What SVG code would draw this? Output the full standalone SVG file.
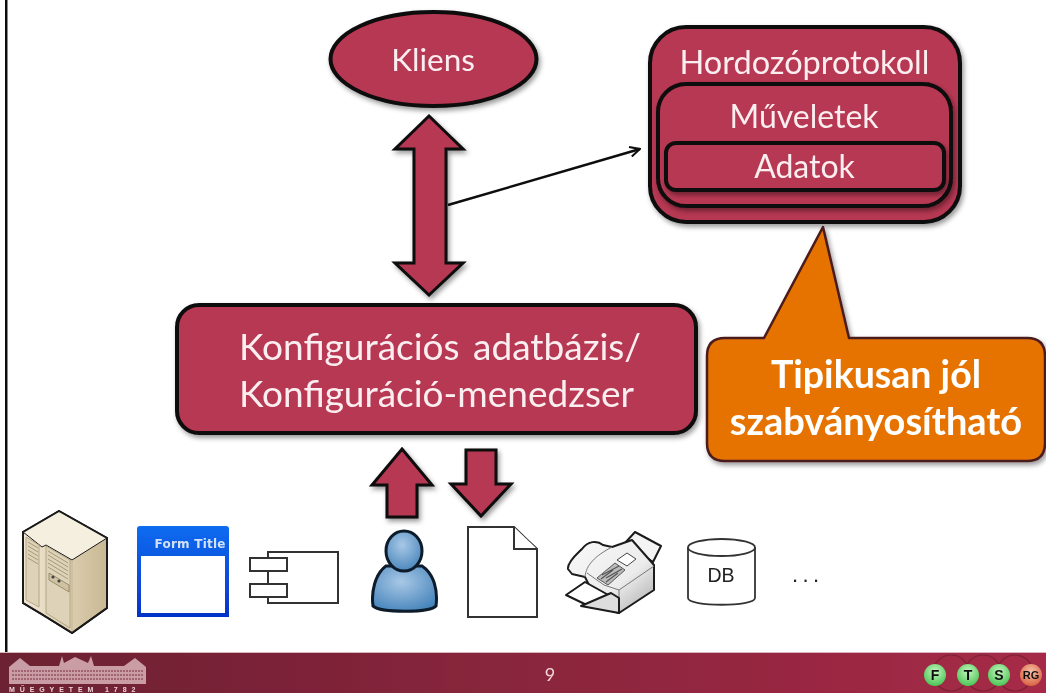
<svg xmlns="http://www.w3.org/2000/svg" width="1046" height="693" viewBox="0 0 1046 693">
<style>
.n{fill:#b73753;stroke:#0a0a0a;stroke-width:4;stroke-linejoin:miter}
.a{fill:#b73753;stroke:#0a0a0a;stroke-width:3;stroke-linejoin:miter}
.t{font-family:Lato,"Liberation Sans",sans-serif;fill:#fbeef0;text-anchor:middle}
.i{fill:#fff;stroke:#333;stroke-width:2}
.k{stroke:#1a1a1a;stroke-width:2;stroke-linejoin:round}
.f{font-family:"Liberation Sans",sans-serif;fill:#111;text-anchor:middle;font-weight:bold;font-size:14px}
</style>
<defs>
<filter id="s" x="-10%" y="-10%" width="125%" height="125%"><feDropShadow dx="2" dy="3" stdDeviation="2.5" flood-color="#000" flood-opacity=".4"/></filter>
<filter id="soft" filterUnits="userSpaceOnUse" x="0" y="0" width="1046" height="693"><feGaussianBlur stdDeviation=".45"/></filter>
<linearGradient id="bar" x1="0" x2="1" y1="0" y2="0"><stop offset="0" stop-color="#6c2132"/><stop offset="1" stop-color="#a62a47"/></linearGradient>
<linearGradient id="beige" x1="0" x2="1" y1="0" y2="0"><stop offset="0" stop-color="#f0e8d4"/><stop offset="1" stop-color="#c9b893"/></linearGradient>
<linearGradient id="form" x1="0" x2="0" y1="0" y2="1"><stop offset="0" stop-color="#0a6cf0"/><stop offset="1" stop-color="#0633c8"/></linearGradient>
<radialGradient id="blue" cx=".45" cy=".35" r=".75"><stop offset="0" stop-color="#a8c8e6"/><stop offset="1" stop-color="#3f7fb8"/></radialGradient>
<linearGradient id="gray" x1="0" x2="1" y1="0" y2="1"><stop offset="0" stop-color="#f8f8f8"/><stop offset=".6" stop-color="#ececec"/><stop offset="1" stop-color="#a8a8a8"/></linearGradient>
<radialGradient id="green" cx=".5" cy=".35" r=".7"><stop offset="0" stop-color="#c8f5c0"/><stop offset="1" stop-color="#3fc24c"/></radialGradient>
<radialGradient id="red" cx=".5" cy=".35" r=".7"><stop offset="0" stop-color="#f5c0a8"/><stop offset="1" stop-color="#d85a3a"/></radialGradient>
<marker id="a" viewBox="0 0 12 12" refX="11" refY="6" markerWidth="12" markerHeight="12" markerUnits="userSpaceOnUse" orient="auto"><path d="M1 1L11 6L1 11" fill="none" stroke="#0a0a0a" stroke-width="2"/></marker>
</defs>
<rect width="1046" height="693" fill="#fff"/>
<g filter="url(#soft)">
<rect x="5" y="0" width="2.5" height="652" fill="#111"/>

<g id="footer">
<rect x="0" y="652" width="1046" height="41" fill="url(#bar)"/>
<rect x="0" y="652" width="1046" height="1" fill="#d9b5bd"/>
<text x="550" y="681" font-family="Lato,'Liberation Sans',sans-serif" font-size="18" fill="#f3d5da" text-anchor="middle">9</text>
<g id="building" fill="#d9b3ba">
<path d="M9 667L20 658L30 666H59L62 656L64 663L75 657L88 663L91 656L94 666H124L135 658L146 667V684H9Z" opacity=".85"/>
<path d="M12 671H143M12 675H143M12 679H143" stroke="#7b2a3c" stroke-width="1.2" stroke-dasharray="2 1"/>
<text x="9" y="692" font-family="'Liberation Sans',sans-serif" font-size="7" font-weight="bold" fill="#eed5d9" letter-spacing="4.9">MŰEGYETEM 1782</text>
</g>
<g id="logos">
<g fill="none" stroke="#7a2236" stroke-width="1.2"><circle cx="951" cy="673" r="18"/><circle cx="983" cy="673" r="18"/><circle cx="1015" cy="673" r="18"/></g>
<circle cx="935" cy="675" r="11" fill="url(#green)"/><circle cx="968" cy="675" r="11" fill="url(#green)"/><circle cx="999" cy="675" r="11" fill="url(#green)"/><circle cx="1031" cy="675" r="11" fill="url(#red)"/>
<text class="f" x="935" y="680">F</text><text class="f" x="968" y="680">T</text><text class="f" x="999" y="680">S</text><text class="f" x="1031" y="679" style="font-size:11px">RG</text>
</g>
</g>

<g id="connectors">
<path id="arrow-main" class="a" filter="url(#s)" d="M429 116L463 149H446V263H463L429 295L395 263H414V149H395Z"/>
<path id="arrow-up" class="a" filter="url(#s)" d="M402 449L432 485H417V517H387V485H372Z"/>
<path id="arrow-down" class="a" filter="url(#s)" d="M466 450H496V484H511L481 516L451 484H466Z"/>
<line x1="448" y1="205" x2="640" y2="149" stroke="#0a0a0a" stroke-width="2.4" marker-end="url(#a)"/>
</g>

<g id="kliens">
<ellipse class="n" filter="url(#s)" cx="433.5" cy="59" rx="103" ry="47"/>
<text class="t" x="433" y="71" font-size="31.5">Kliens</text>
</g>

<g id="hordozoprotokoll">
<rect class="n" filter="url(#s)" x="650" y="27" width="310" height="195" rx="36"/>
<text class="t" x="804.500" y="74" font-size="32.500">Hordozóprotokoll</text>
</g>
<g id="muveletek">
<rect class="n" filter="url(#s)" x="658" y="84" width="293" height="122" rx="28"/>
<text class="t" x="804" y="128" font-size="32">Műveletek</text>
</g>
<g id="adatok">
<rect class="n" filter="url(#s)" x="666" y="143" width="278" height="47" rx="10"/>
<text class="t" x="804.500" y="178" font-size="32">Adatok</text>
</g>

<g id="konfiguracio">
<rect class="n" filter="url(#s)" x="177" y="305" width="519" height="128" rx="22"/>
<text class="t" x="440" y="360" font-size="37" word-spacing="4">Konfigurációs adatbázis/</text>
<text class="t" x="436.500" y="407" font-size="37">Konfiguráció-menedzser</text>
</g>

<g id="callout">
<path filter="url(#s)" fill="#e67300" stroke="#4b1a1e" stroke-width="2.5" stroke-linejoin="round" d="M725 338H764L823 227L849 338H1027Q1045 338 1045 356V443Q1045 461 1027 461H725Q707 461 707 443V356Q707 338 725 338Z"/>
<text class="t" x="876" y="388" font-size="37.500" font-weight="bold" style="fill:#fff">Tipikusan jól</text>
<text class="t" x="876" y="435" font-size="38" font-weight="bold" style="fill:#fff">szabványosítható</text>
</g>

<g id="server">
<path class="k" fill="url(#beige)" d="M59 511L107 538V608L72 633L43 615L23 603V532Z"/>
<path d="M23 532L59 511L107 538L72 560L46 545L42 547Z" fill="#f5efdf" stroke="#1a1a1a" stroke-width="1"/>
<path d="M26 537L39 545V607L26 600ZM46 546L70 560V628L46 613Z" fill="#ded3b8" stroke="#a89a78" stroke-width=".8"/>
<path d="M28 542L38 548M28 546L38 552M28 550L38 556M28 554L38 560M28 558L38 564M48 551L68 563M48 555L68 567M48 559L68 571M48 563L68 575M48 567L68 579" stroke="#a89a78" stroke-width="1"/>
<path d="M49 573L69 585V592L49 580Z" fill="#cfc2a2" stroke="#8b7d5e" stroke-width=".8"/>
<circle cx="53" cy="577" r="1.6" fill="#444"/><circle cx="59" cy="581" r="1.6" fill="#444"/>
<path d="M72 560V633" stroke="#c5b48f" stroke-width="1"/>
<path class="k" fill="none" d="M59 511L107 538V608L72 633L43 615L23 603V532Z"/>
</g>

<g id="form">
<path fill="url(#form)" d="M140 526H226Q229 526 229 529V617H137V529Q137 526 140 526Z"/>
<rect x="141" y="556" width="84" height="57" fill="#fff"/>
<text x="190" y="548" font-family="'DejaVu Sans',sans-serif" font-size="12" font-weight="bold" fill="#d3e2fa" text-anchor="middle" textLength="71">Form Title</text>
</g>

<g id="component">
<rect class="i" x="268" y="552" width="70" height="51"/>
<rect class="i" x="250" y="558" width="37" height="13"/>
<rect class="i" x="250" y="584" width="37" height="13"/>
</g>

<g id="person">
<path fill="url(#blue)" stroke="#0d1b2a" stroke-width="3" d="M386 566C375 574 371 592 373 606C381 613 430 613 436 606C438 590 434 574 422 566Z"/>
<ellipse cx="404" cy="551" rx="18" ry="20" fill="url(#blue)" stroke="#0d1b2a" stroke-width="3"/>
</g>

<g id="document">
<path class="i" stroke-linejoin="miter" d="M468 527H514L537 549V617H468Z"/>
<path class="i" fill="none" d="M514 527V549H537"/>
</g>

<g id="fax">
<path class="k" fill="#f4f4f4" d="M625 543L635 532L661 546L653 562Z"/>
<path class="k" fill="url(#gray)" d="M568 569C567 562 578 553 582 549C588 541 597 540 603 545L612 547L632 540L654 565V590L619 613L600 607L585 577L572 574Z"/>
<path d="M585 577C586 565 595 556 612 547M587 573L604 585L619 590L654 566M619 590V613" fill="none" stroke="#777" stroke-width="1"/>
<path d="M617 560L627 553L636 559L627 566Z" fill="#fff" stroke="#444" stroke-width="1"/>
<path d="M597 578L615 563L625 570L608 585Z" fill="#bbb" stroke="#555" stroke-width="1"/>
<path d="M602 575L619 566M606 578L622 569M601 579L613 570M606 582L618 573" stroke="#555" stroke-width="1.2"/>
<path class="k" fill="#fff" d="M566 595L585 582L612 597L593 608Z"/>
<path class="k" fill="#ddd" d="M581 606L611 593L619 598V613Z"/>
</g>

<g id="db">
<path fill="#fff" stroke="#333" stroke-width="1.8" d="M688 547V598C688 607 755 607 755 598V547"/>
<ellipse cx="721.500" cy="547.500" rx="33.500" ry="8.500" fill="#fff" stroke="#333" stroke-width="1.8"/>
<text x="721" y="582" font-family="'Liberation Sans',sans-serif" font-size="19.500" fill="#222" text-anchor="middle">DB</text>
</g>

<text x="792" y="582" font-family="'Liberation Sans',sans-serif" font-size="22" fill="#222" letter-spacing="4.400">...</text>
</g>
</svg>
